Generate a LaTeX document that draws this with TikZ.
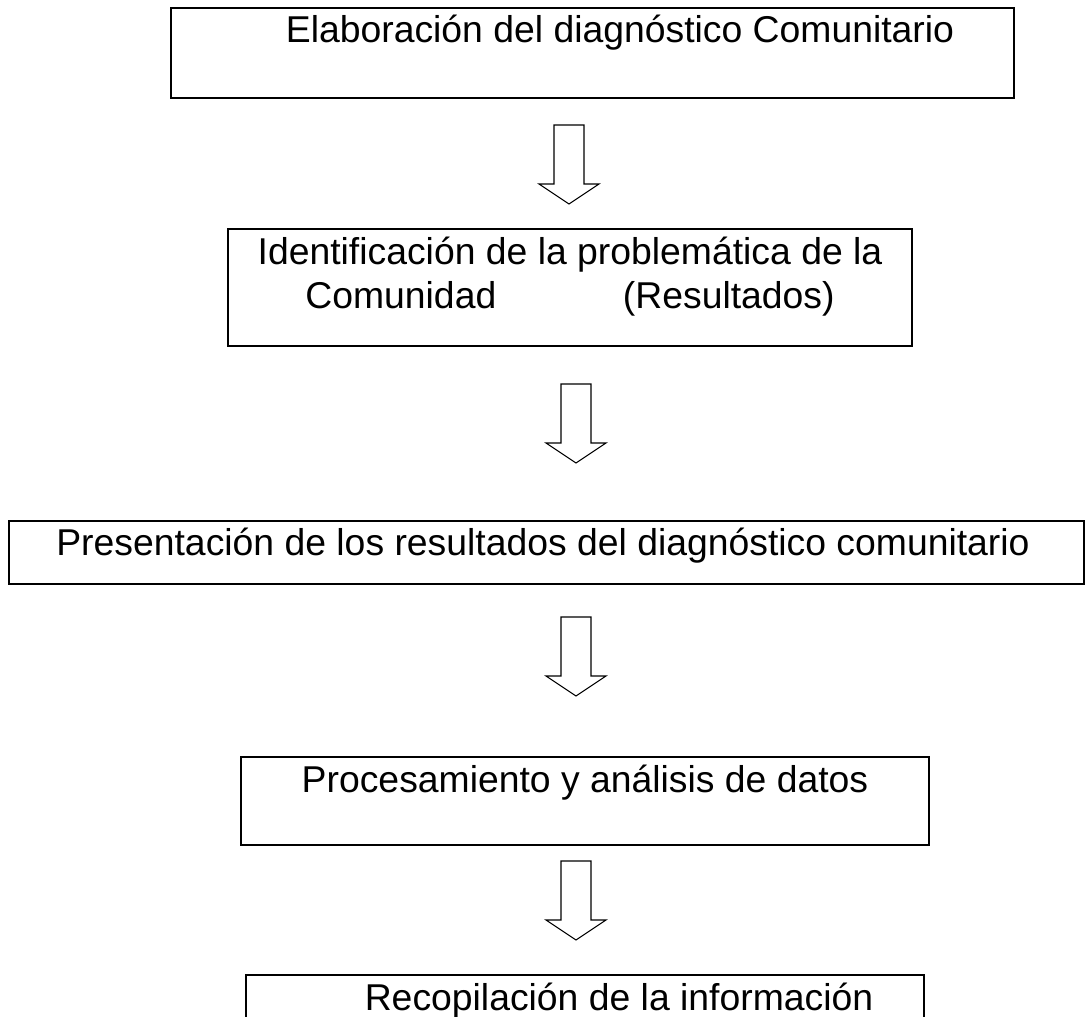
\documentclass[tikz,border=0pt]{standalone}
\usepackage{fontspec}
\setmainfont{Liberation Sans}

\begin{document}
\begin{tikzpicture}[x=0.75pt,y=0.75pt,yscale=-1,xscale=1,
	caja/.style={draw, line width=1.6pt, inner sep=0pt, anchor=north west},
	texto/.style={font=\fontsize{28}{33}\selectfont, inner sep=0pt, anchor=base},
	flecha/.pic={\draw [line width=0.8pt, line join=miter] (-15,0) -- (15,0) -- (15,-59) -- (30,-59) -- (0,-79) -- (-30,-59) -- (-15,-59) -- cycle ;}]
	\useasboundingbox (0,0) rectangle (1089,1017);
	\clip (0,0) rectangle (1089,1017);
	\node [caja, minimum width=632.25pt, minimum height=67.5pt] (elab) at (170,7) {};
	\node [caja, minimum width=513pt, minimum height=87.75pt] (ident) at (227,228) {};
	\node [caja, minimum width=806.25pt, minimum height=47.25pt] (pres) at (8,520) {};
	\node [caja, minimum width=516pt, minimum height=66pt] (proc) at (240,756) {};
	\node [caja, minimum width=508.5pt, minimum height=60pt] (recop) at (245,974) {};
	\node [texto] (elabtxt) at (620,42) {Elaboración del diagnóstico Comunitario};
	\node [texto] (identa) at (570,264) {Identificación de la problemática de la};
	\node [texto] (identb) at (570,308) {Comunidad\hspace{95pt}(Resultados)};
	\node [texto] (prestxt) at (543,555) {Presentación de los resultados del diagnóstico comunitario};
	\node [texto] (proctxt) at (585,792) {Procesamiento y análisis de datos};
	\node [texto] (recoptxt) at (619,1010) {Recopilación de la información};
	\pic (f1) at (569,125) {flecha};
	\pic (f2) at (576,384) {flecha};
	\pic (f3) at (576,617) {flecha};
	\pic (f4) at (576,861) {flecha};
\end{tikzpicture}
\end{document}
